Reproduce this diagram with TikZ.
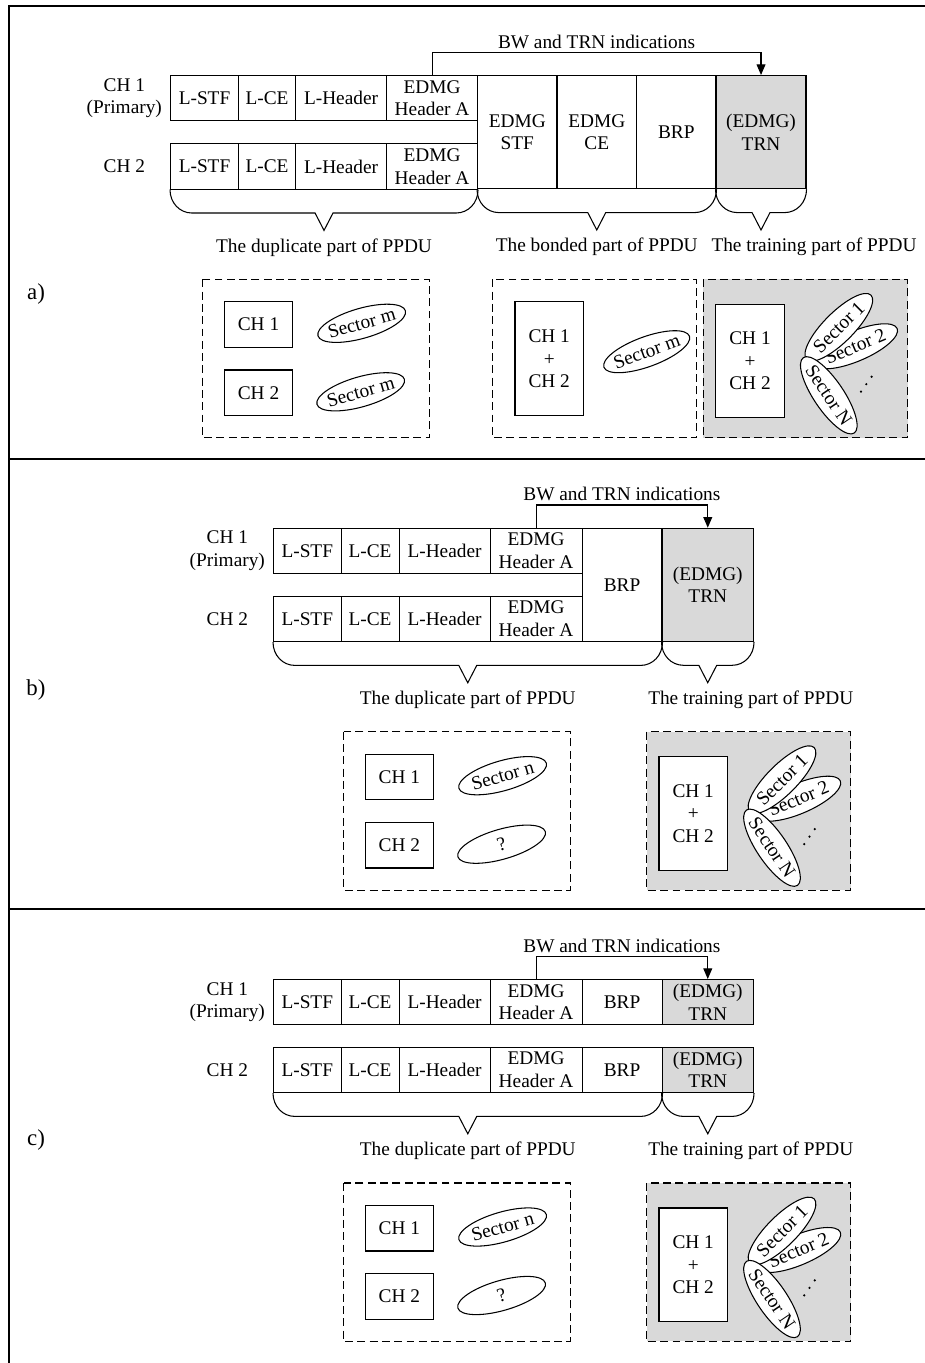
\documentclass[tikz,border=0pt]{standalone}
\usepackage{fontspec}
\setmainfont{Liberation Serif}
\usetikzlibrary{positioning,calc,shapes.geometric,arrows.meta}
\tikzset{
    field/.style={draw, anchor=north west, minimum height=0.906cm, inner sep=0pt, align=center},
    tall/.style={field, minimum height=2.264cm},
    trn/.style={fill=gray!30},
    chbox/.style={draw, fill=white, minimum width=1.368cm, minimum height=0.912cm, inner sep=0pt, align=center},
    dashbox/.style={draw, dash pattern=on 4.5pt off 2.5pt},
    sector/.style={ellipse, draw, fill=white, minimum width=1.82cm, minimum height=0.6cm, inner xsep=-4pt, inner ysep=0pt},
    frame/.style={line width=1pt},
    panellabel/.style={font=\fontsize{13}{15}\selectfont},
    ppdubrace/.style={to path={
        let \p1=(\tikztostart), \p2=(\tikztotarget), \p3=($(\tikztostart)!0.5!(\tikztotarget)$) in
        (\p1) .. controls (\x1,\y1-7.5pt) and (\x1+5.5pt,\y1-13.3pt) .. (\x1+12.5pt,\y1-13.3pt)
        -- (\x3-5.1pt,\y1-13.3pt) -- (\x3,\y1-23.2pt) -- (\x3+5.1pt,\y1-13.3pt)
        -- (\x2-12.5pt,\y1-13.3pt) .. controls (\x2-5.5pt,\y1-13.3pt) and (\x2,\y1-7.5pt) .. (\p2)}},
    % Two channels, one sector each
    pics/dupbox/.style 2 args={code={
        \draw[dashbox] (0,0) rectangle (226.6,158.4);
        \node[chbox] (-ch1) at (55.8,45.2) {CH 1};
        \node[chbox] (-ch2) at (55.8,113.5) {CH 2};
        \node[sector, rotate=16] (-s1) at (159,44) {#1};
        \node[sector, rotate=16] (-s2) at (158,112.5) {#2};
    }},
    % Bonded channel, sector sweep
    fanbox/.pic={
        \draw[dashbox, fill=gray!30] (0,0) rectangle (204.4,158.4);
        \node[chbox, minimum height=2.268cm] (-ch) at (46.7,81.7) {CH 1\\+\\CH 2};
        \node[sector, rotate=23] (-s2) at (152,67) {Sector 2};
        \node[sector, rotate=45] (-s1) at (135.5,48) {Sector 1};
        \node[sector, rotate=-56] (-sn) at (125.5,116) {Sector N};
        \foreach \k in {0,1,2}
            \fill ({157.7+5.3*\k},{112.4-7.5*\k}) circle (0.7pt);
    }
}

\begin{document}
\begin{tikzpicture}[x=0.02cm, y=-0.02cm, line width=0.6pt, font=\fontsize{11}{12.8}\selectfont,
    >={Triangle[length=6pt,width=5pt]}]
    \useasboundingbox (0,0) rectangle (925,1363);
    % Frame
    \draw[frame] (8.7,1363) |- (925,5.7);
    \draw[frame] (8.7,459.3) -- (925,459.3);
    \draw[frame] (8.7,909) -- (925,909);

    % a)
    \foreach \n/\xl/\w/\txt in {1/170/68/L-STF, 2/238/57/L-CE, 3/295/91/L-Header, 4/386/91/{EDMG\\Header A}}{
        \node[field, minimum width=\w*0.02cm] (a1-\n) at (\xl,75) {\txt};
        \node[field, minimum width=\w*0.02cm] (a2-\n) at (\xl,143.3) {\txt};
    }
    \foreach \n/\xl/\txt in {5/477/{EDMG\\STF}, 6/556.5/{EDMG\\CE}, 7/636/BRP}
        \node[tall, minimum width=1.59cm] (a-\n) at (\xl,75) {\txt};
    \node[tall, trn, minimum width=1.8cm] (a-8) at (715.5,75) {(EDMG)\\TRN};
    \node[left=1pt of a1-1, align=center] (ach1) {CH 1\\(Primary)};
    \node (ach2) at (ach1 |- a2-1) {CH 2};
    \draw[->] (a1-4.north) -- ++(0,-22.3) -| (a-8.north) node[pos=0.25, above, inner sep=2pt] (abw) {BW and TRN indications};
    \draw (a2-1.south west) to[ppdubrace] (a2-4.south east);
    \draw (a-5.south west) to[ppdubrace] (a-7.south east);
    \draw (a-8.south west) to[ppdubrace] (a-8.south east);
    \node (adupl) at ($(a2-1.south west)!0.5!(a2-4.south east)+(0,58)$) {The duplicate part of PPDU};
    \node (abondl) at ($(a-5.south west)!0.5!(a-7.south east)+(0,58)$) {The bonded part of PPDU};
    \node (atrnl) at ($(a-8.south)+(53,58)$) {The training part of PPDU};
    \node[panellabel] (pa) at (36,294) {a)};
    \pic (adup) at (202.7,279.3) {dupbox={Sector m}{Sector m}};
    \draw[dashbox] (492.7,279.3) rectangle ++(204,158.4);
    \node[chbox, minimum height=2.28cm] (abond) at (549.2,358.7) {CH 1\\+\\CH 2};
    \node[sector, rotate=20] (abonds) at (646.7,351.7) {Sector m};
    \pic (afan) at (703.3,279.3) {fanbox};

    % b)
    \foreach \n/\xl/\w/\txt in {1/273/67.5/L-STF, 2/340.5/58/L-CE, 3/398.5/91/L-Header, 4/489.5/92/{EDMG\\Header A}}{
        \node[field, minimum width=\w*0.02cm] (b1-\n) at (\xl,527.7) {\txt};
        \node[field, minimum width=\w*0.02cm] (b2-\n) at (\xl,595.7) {\txt};
    }
    \node[tall, minimum width=1.6cm] (b-5) at (581.5,527.7) {BRP};
    \node[tall, trn, minimum width=1.83cm] (b-6) at (661.5,527.7) {(EDMG)\\TRN};
    \node[left=1pt of b1-1, align=center] (bch1) {CH 1\\(Primary)};
    \node (bch2) at (bch1 |- b2-1) {CH 2};
    \draw[->] (b1-4.north) -- ++(0,-22.7) -| (b-6.north) node[pos=0.25, above, inner sep=2pt] (bbw) {BW and TRN indications};
    \draw (b2-1.south west) to[ppdubrace] (b-5.south east);
    \draw (b-6.south west) to[ppdubrace] (b-6.south east);
    \node (bdupl) at ($(b2-1.south west)!0.5!(b-5.south east)+(0,58)$) {The duplicate part of PPDU};
    \node (btrnl) at ($(b-6.south)+(43,58)$) {The training part of PPDU};
    \node[panellabel] (pb) at (36,690) {b)};
    \pic (bdup) at (343.6,731.7) {dupbox={Sector n}{?}};
    \pic (bfan) at (646.5,731.7) {fanbox};

    % c)
    \foreach \n/\xl/\w/\txt in {1/273/67.5/L-STF, 2/340.5/58/L-CE, 3/398.5/91/L-Header, 4/489.5/92/{EDMG\\Header A}, 5/581.5/80/BRP}{
        \node[field, minimum width=\w*0.02cm] (c1-\n) at (\xl,979) {\txt};
        \node[field, minimum width=\w*0.02cm] (c2-\n) at (\xl,1046.7) {\txt};
    }
    \node[field, trn, minimum width=1.83cm] (c1-6) at (661.5,979) {(EDMG)\\TRN};
    \node[field, trn, minimum width=1.83cm] (c2-6) at (661.5,1046.7) {(EDMG)\\TRN};
    \node[left=1pt of c1-1, align=center] (cch1) {CH 1\\(Primary)};
    \node (cch2) at (cch1 |- c2-1) {CH 2};
    \draw[->] (c1-4.north) -- ++(0,-22.3) -| (c1-6.north) node[pos=0.25, above, inner sep=2pt] (cbw) {BW and TRN indications};
    \draw (c2-1.south west) to[ppdubrace] (c2-5.south east);
    \draw (c2-6.south west) to[ppdubrace] (c2-6.south east);
    \node (cdupl) at ($(c2-1.south west)!0.5!(c2-5.south east)+(0,58)$) {The duplicate part of PPDU};
    \node (ctrnl) at ($(c2-6.south)+(43,58)$) {The training part of PPDU};
    \node[panellabel] (pc) at (36,1140) {c)};
    \pic (cdup) at (343.6,1183) {dupbox={Sector n}{?}};
    \pic (cfan) at (646.5,1183) {fanbox};
\end{tikzpicture}
\end{document}
